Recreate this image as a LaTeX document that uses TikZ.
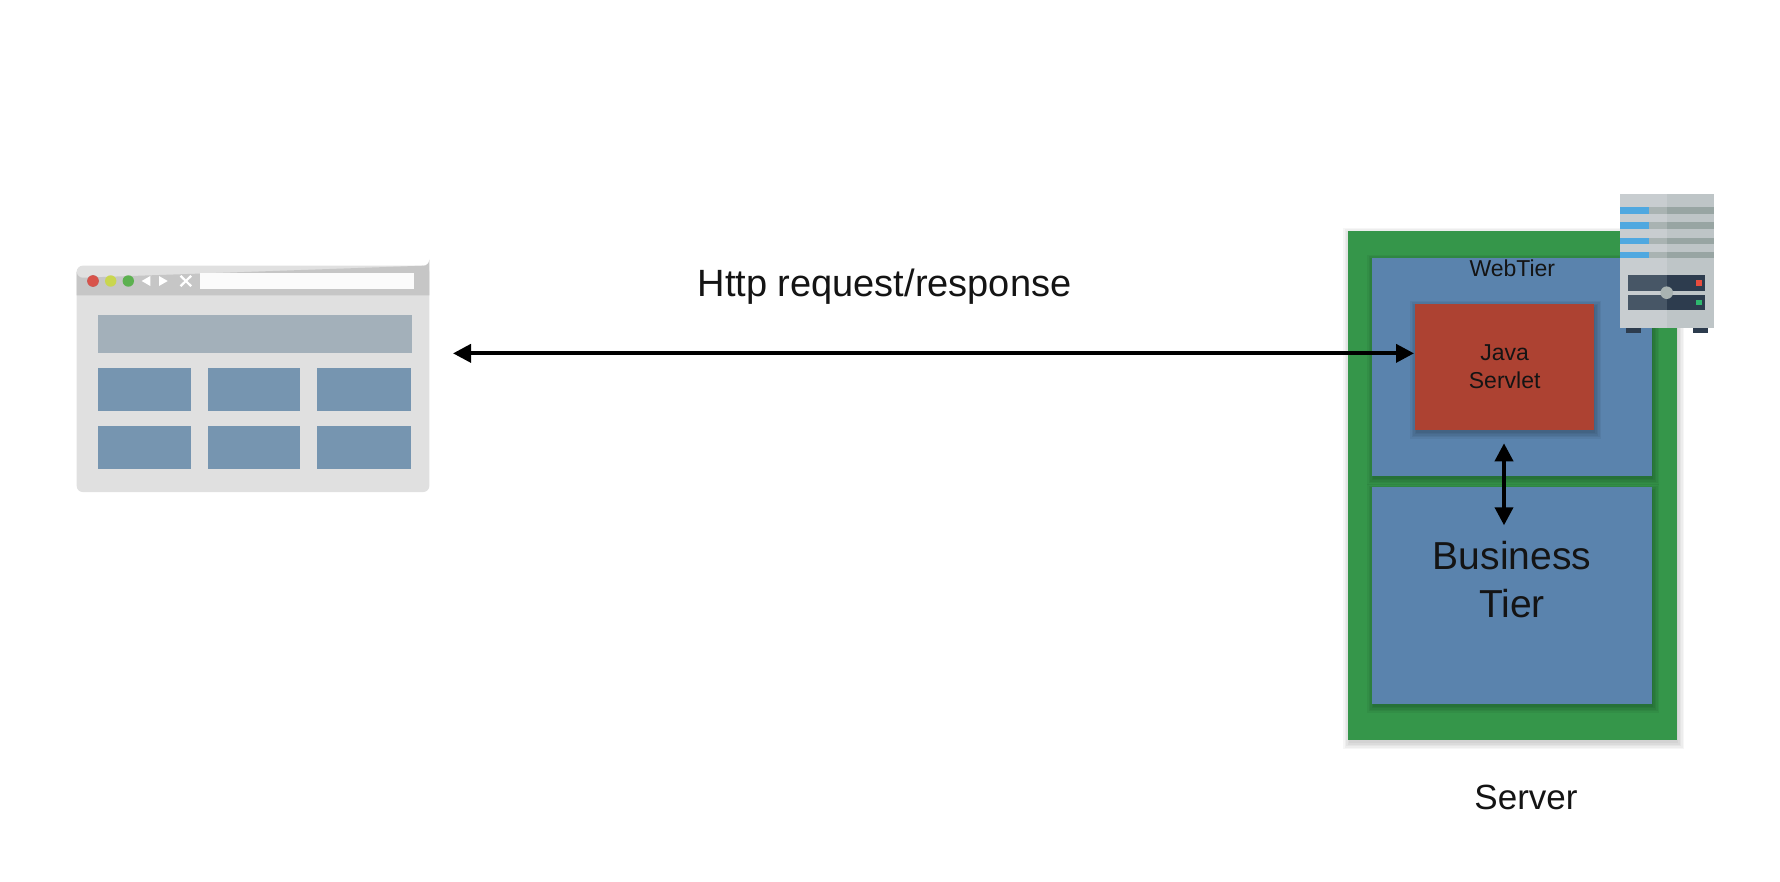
\documentclass[tikz,border=0pt]{standalone}
\usepackage{fontspec}
\setmainfont{Liberation Sans}
\usetikzlibrary{arrows.meta,calc}
\definecolor{cgreen}{HTML}{35964A}
\definecolor{cblue}{HTML}{5A83AD}
\definecolor{cred}{HTML}{AD4232}
\definecolor{bbody}{HTML}{E0E0E0}
\definecolor{bbar}{HTML}{C6C6C6}
\definecolor{bpanel}{HTML}{A3B0BA}
\definecolor{btile}{HTML}{7695B0}
\definecolor{surl}{HTML}{FBFBFB}
\definecolor{sbody}{HTML}{C8CDD0}
\definecolor{sbodyr}{HTML}{BEC5C7}
\definecolor{sstl}{HTML}{A9B3B2}
\definecolor{sstr}{HTML}{98A5A3}
\definecolor{sblue}{HTML}{4FA8E0}
\definecolor{spl}{HTML}{475666}
\definecolor{spr}{HTML}{2D3C4E}
\tikzset{
  x=1pt,y=-1pt,
  boxnode/.style={rectangle,inner sep=0pt,outer sep=0pt,draw=none},
  label text/.style={inner sep=0pt,align=center,text=black!92},
  both arrow/.style={line width=3.8pt,{Triangle[length=18pt,width=18pt]}-{Triangle[length=18pt,width=18pt]},black},
  fl/.style={fill=#1,draw=none}
}
\newcommand{\softshadow}[5]{% x1 y1 x2 y2 strength
  \foreach \d in {0,1.5,3,4.5,6}{
    \fill[black,opacity=#5] (#1-\d+1,#2-\d+3) rectangle (#3+\d+1,#4+\d+3);
  }
}
\begin{document}
\begin{tikzpicture}
\useasboundingbox (0,0) rectangle (1780,882);
\fill[white] (0,0) rectangle (1780,882);

% browser
\node[boxnode,fill=bbody,rounded corners=6pt,minimum width=352.6pt,minimum height=226.3pt] (browser) at (253,378.85) {};
\fill[bbar] (76.7,295.3) -- (76.7,271.7) arc[start angle=180,end angle=90,radius=6] -- (423.3,265.7) arc[start angle=90,end angle=0,radius=6] -- (429.3,295.3) -- cycle;
\fill[fl=surl] (200.3,273) rectangle (413.7,289.3);
\fill[fl=bpanel] (97.7,314.7) rectangle (412,352.7);
\foreach \xa/\xb in {98/191.3,207.7/300.3,317.3/410.7}{
  \fill[fl=btile] (\xa,368) rectangle (\xb,411.3);
  \fill[fl=btile] (\xa,425.7) rectangle (\xb,469.3);
}
\fill[fl={red!55!black!60!bbar}] (93,281) circle[radius=5.7];
\fill[fill=cred!60!red!80!white] (93,281) circle[radius=5.7];
\fill[fill={rgb,255:red,201;green,214;blue,79}] (110.7,281) circle[radius=5.7];
\fill[fill={rgb,255:red,92;green,177;blue,79}] (128.3,281) circle[radius=5.7];
\fill[white] (150.3,276) -- (150.3,286) -- (141.7,281) -- cycle;
\fill[white] (159,276) -- (159,286) -- (167.7,281) -- cycle;
\draw[white,line width=2.2pt] (180.5,275.8) -- (191.2,286.2) (191.2,275.8) -- (180.5,286.2);

% server container
\softshadow{1348}{231}{1677}{740}{0.035}
\node[boxnode,fill=cgreen,minimum width=329pt,minimum height=509pt] (container) at (1512.5,485.5) {};
\softshadow{1372}{258}{1652}{475.7}{0.05}
\node[boxnode,fill=cblue,minimum width=280pt,minimum height=217.7pt] (webtier) at (1512,366.85) {};
\softshadow{1372}{487}{1652}{703.7}{0.05}
\node[boxnode,fill=cblue,minimum width=280pt,minimum height=216.7pt] (business) at (1512,595.35) {};
\softshadow{1415.3}{304}{1594}{429.7}{0.05}
\node[boxnode,fill=cred,minimum width=178.7pt,minimum height=125.7pt,label text,font=\fontsize{23}{28}\selectfont] (servlet) at (1504.65,366.85) {Java\\Servlet};

\node[label text,font=\fontsize{23}{26}\selectfont] (webtierlabel) at (1512.3,268) {WebTier};
\node[label text,font=\fontsize{39}{47.5}\selectfont] (bizlabel) at (1512,579.5) {Business\\Tier};
\node[label text,font=\fontsize{35}{40}\selectfont] (serverlabel) at (1526,797) {Server};
\node[label text,font=\fontsize{38}{44}\selectfont] (httplabel) at (884.5,287) {Http request/response};

% server icon
\fill[fl=spr] (1625.7,328) rectangle (1640.7,332.7);
\fill[fl=spr] (1693,328) rectangle (1708,332.7);
\fill[fl=sbody] (1619.7,194) rectangle (1714.3,328);
\fill[fl=sbodyr] (1666.7,194) rectangle (1714.3,328);
\foreach \ya/\yb in {207/213.7,222.3/229,237.7/244,252/258.3}{
  \fill[fl=sblue] (1619.7,\ya) rectangle (1649.3,\yb);
  \fill[fl=sstl] (1649.3,\ya) rectangle (1666.7,\yb);
  \fill[fl=sstr] (1666.7,\ya) rectangle (1714.3,\yb);
}
\fill[fl=spl] (1628.3,275) rectangle (1666.7,290.7);
\fill[fl=spr] (1666.7,275) rectangle (1705.3,290.7);
\fill[fl=spl] (1628.3,294.7) rectangle (1666.7,310.3);
\fill[fl=spr] (1666.7,294.7) rectangle (1705.3,310.3);
\fill[fl=sbody] (1628.3,290.7) rectangle (1666.7,294.7);
\fill[fl=sbodyr] (1666.7,290.7) rectangle (1705.3,294.7);
\fill[fl=sstl] (1666.7,292.7) circle[radius=6.3];
\fill[fill={rgb,255:red,232;green,76;blue,61}] (1696,280) rectangle (1701.7,285.7);
\fill[fill={rgb,255:red,46;green,184;blue,110}] (1696,299.7) rectangle (1701.7,305.3);

% connectors
\draw[both arrow] ([shift={(23.7,-25.5)}]browser.east) -- ([shift={(-1.3,-13.5)}]servlet.west);
\draw[both arrow] ([shift={(-0.65,13.6)}]servlet.south) -- ([shift={(-8,38.3)}]business.north);
\end{tikzpicture}
\end{document}
